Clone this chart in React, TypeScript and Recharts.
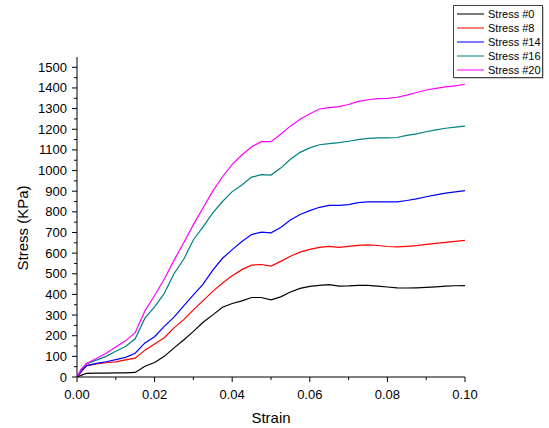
import React from 'react';
import { LineChart, Line, XAxis, YAxis, Legend, Label } from 'recharts';

const strain = [0, 0.001, 0.0025, 0.005, 0.0075, 0.01, 0.0125, 0.015, 0.0175, 0.02, 0.0225, 0.025, 0.0275, 0.03, 0.0325, 0.035, 0.0375, 0.04, 0.0425, 0.045, 0.0475, 0.05, 0.0525, 0.055, 0.0575, 0.06, 0.0625, 0.065, 0.0675, 0.07, 0.0725, 0.075, 0.0775, 0.08, 0.0825, 0.085, 0.0875, 0.09, 0.0925, 0.095, 0.0975, 0.1];

const stress0 = [0, 8, 18, 19, 19, 20, 20, 22, 52, 70, 100, 141, 179, 221, 265, 301, 338, 356, 369, 385, 385, 374, 388, 412, 429, 439, 444, 447, 440, 441, 444, 444, 440, 436, 432, 431, 432, 434, 437, 440, 442, 443];
const stress8 = [0, 25, 55, 64, 69, 73, 83, 91, 130, 160, 190, 238, 278, 325, 370, 415, 455, 490, 520, 542, 545, 537, 560, 585, 605, 618, 628, 633, 628, 633, 638, 640, 637, 632, 630, 633, 636, 642, 647, 652, 657, 662];
const stress14 = [0, 25, 55, 66, 74, 84, 95, 115, 165, 195, 245, 290, 345, 398, 450, 518, 575, 617, 656, 690, 702, 698, 724, 760, 787, 806, 822, 831, 831, 835, 845, 848, 848, 848, 848, 855, 863, 873, 882, 891, 897, 903];
const stress16 = [0, 35, 65, 82, 100, 125, 148, 185, 285, 340, 405, 500, 570, 665, 727, 795, 850, 898, 930, 968, 980, 978, 1012, 1055, 1088, 1110, 1125, 1130, 1135, 1142, 1150, 1156, 1158, 1158, 1160, 1170, 1178, 1188, 1197, 1205, 1210, 1215];
const stress20 = [0, 35, 65, 90, 115, 145, 175, 215, 320, 395, 475, 565, 650, 738, 820, 900, 970, 1030, 1075, 1115, 1140, 1140, 1176, 1215, 1248, 1275, 1298, 1305, 1310, 1320, 1335, 1343, 1348, 1350, 1355, 1365, 1378, 1390, 1398, 1405, 1410, 1418];

const xTicks = [0, 0.01, 0.02, 0.03, 0.04, 0.05, 0.06, 0.07, 0.08, 0.09, 0.1];
const xLabeledTicks = [0, 0.02, 0.04, 0.06, 0.08, 0.1];
const yTicks = [0, 50, 100, 150, 200, 250, 300, 350, 400, 450, 500, 550, 600, 650, 700, 750, 800, 850, 900, 950, 1000, 1050, 1100, 1150, 1200, 1250, 1300, 1350, 1400, 1450, 1500];
const yLabeledTicks = [0, 100, 200, 300, 400, 500, 600, 700, 800, 900, 1000, 1100, 1200, 1300, 1400, 1500];

const seriesNames = ['Stress #0', 'Stress #8', 'Stress #14', 'Stress #16', 'Stress #20'];
const seriesKeys = ['s0', 's8', 's14', 's16', 's20'];
const seriesColors = ['#000000', '#ff0000', '#0000ff', '#008080', '#ff00ff'];
const seriesValues = [stress0, stress8, stress14, stress16, stress20];

const data = strain.map((s, i) => {
  const row: Record<string, number> = { strain: s };
  seriesKeys.forEach((k, j) => {
    row[k] = seriesValues[j][i];
  });
  return row;
});

const FONT = '"Liberation Sans", Arial, sans-serif';

const isLabeled = (v: number, list: number[]) => list.some((t) => Math.abs(t - v) < 1e-9);

const XTick = (props: any) => {
  const { x, y, payload } = props;
  const major = isLabeled(payload.value, xLabeledTicks);
  return (
    <g>
      <line x1={x} x2={x} y1={y} y2={y + (major ? 5 : 3)} stroke="#000" strokeWidth={1} />
      {major && (
        <text x={x} y={y + 22} textAnchor="middle" fontSize={13} fontFamily={FONT} fill="#000">
          {Number(payload.value).toFixed(2)}
        </text>
      )}
    </g>
  );
};

const YTick = (props: any) => {
  const { x, y, payload } = props;
  const major = isLabeled(payload.value, yLabeledTicks);
  return (
    <g>
      <line x1={x - (major ? 5 : 3)} x2={x} y1={y} y2={y} stroke="#000" strokeWidth={1} />
      {major && (
        <text x={x - 10} y={y + 4.5} textAnchor="end" fontSize={13} fontFamily={FONT} fill="#000">
          {payload.value}
        </text>
      )}
    </g>
  );
};

const LegendBox = () => (
  <svg width={91} height={74} style={{ display: 'block' }}>
    <rect x={1.5} y={1.5} width={89} height={72} fill="#999" />
    <rect x={0.5} y={0.5} width={89} height={72} fill="#fff" stroke="#444" strokeWidth={1} />
    {seriesNames.map((n, i) => (
      <g key={n}>
        <line x1={4} x2={31} y1={9 + i * 14} y2={9 + i * 14} stroke={seriesColors[i]} strokeWidth={1.3} strokeOpacity={0.8} />
        <text x={35} y={13 + i * 14} fontSize={11} fontFamily={FONT} fill="#000">
          {n}
        </text>
      </g>
    ))}
  </svg>
);

export default function App() {
  return (
    <div style={{ position: 'absolute', left: 0, top: 0, width: 549, height: 428, background: '#fff' }}>
      <LineChart width={549} height={428} data={data} margin={{ top: 57, right: 84, bottom: 0, left: 0 }}>
        <XAxis
          dataKey="strain"
          type="number"
          domain={[0, 0.1]}
          ticks={xTicks}
          interval={0}
          height={51}
          tickSize={0}
          tickMargin={0}
          tickLine={false}
          tick={<XTick />}
          axisLine={{ stroke: '#000', strokeWidth: 1 }}
          allowDataOverflow
        >
          <Label
            content={() => (
              <text x={271} y={423} textAnchor="middle" fontSize={15} fontFamily={FONT} fill="#000">
                Strain
              </text>
            )}
          />
        </XAxis>
        <YAxis
          type="number"
          domain={[0, 1550]}
          ticks={yTicks}
          interval={0}
          width={77}
          tickSize={0}
          tickMargin={0}
          tickLine={false}
          tick={<YTick />}
          axisLine={{ stroke: '#000', strokeWidth: 1 }}
          allowDataOverflow
        >
          <Label
            content={() => (
              <text x={28} y={228} transform="rotate(-90 28 228)" textAnchor="middle" fontSize={15} fontFamily={FONT} fill="#000">
                Stress (KPa)
              </text>
            )}
          />
        </YAxis>
        <Legend
          layout="vertical"
          verticalAlign="middle"
          align="center"
          content={() => <LegendBox />}
          wrapperStyle={{ position: 'absolute', left: 453, top: 5, width: 91, height: 74 }}
        />
        {seriesKeys.map((k, i) => (
          <Line
            key={k}
            dataKey={k}
            name={seriesNames[i]}
            type="linear"
            stroke={seriesColors[i]}
            strokeWidth={1.2}
            dot={false}
            activeDot={false}
            isAnimationActive={false}
          />
        ))}
      </LineChart>
    </div>
  );
}
